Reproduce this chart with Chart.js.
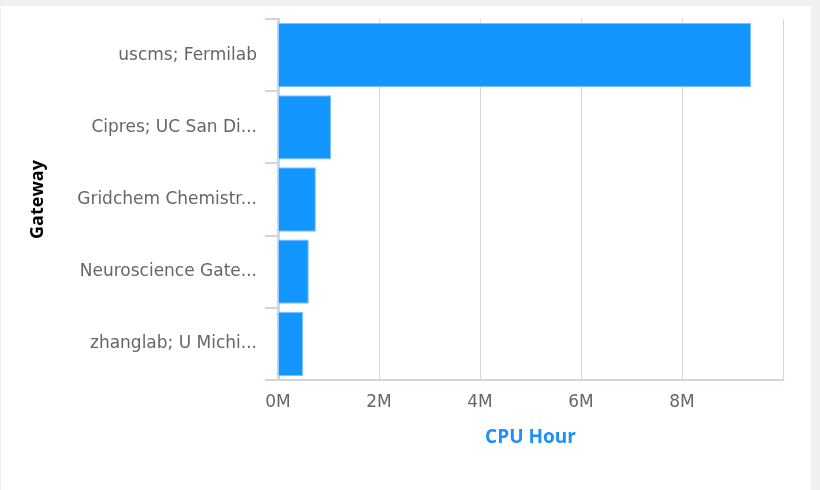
<!DOCTYPE html>
<html>
<head>
<meta charset="utf-8">
<script src="https://cdn.jsdelivr.net/npm/chart.js@4"></script>
<style>
  body { margin: 0; background: #f0f0f0; width: 820px; height: 490px; overflow: hidden; }
  .card { position: absolute; left: 1px; top: 6px; width: 810px; height: 484px; background: #fff; }
</style>
</head>
<body>
<div class="card"><canvas id="myChart" width="810" height="484"></canvas></div>
<script>
const gateways = ["uscms; Fermilab", "Cipres; UC San Di...", "Gridchem Chemistr...", "Neuroscience Gate...", "zhanglab; U Michi..."];
const cpuHours = [9370000, 1050000, 750000, 610000, 500000];
const xTicks = [0, 2000000, 4000000, 6000000, 8000000, 10000000];

const labelFont = { family: "'DejaVu Sans', sans-serif", size: 17 };

const data = {
  labels: gateways,
  datasets: [
    {
      label: "CPU Hour",
      backgroundColor: "#1396ff",
      borderColor: "#7cc2ff",
      borderWidth: 1,
      categoryPercentage: 0.89,
      barPercentage: 1.0,
      data: cpuHours,
    },
  ],
};

const config = {
  type: "bar",
  data: data,
  options: {
    indexAxis: "y",
    responsive: false,
    animation: false,
    layout: { padding: { top: 13, right: 28, bottom: 20, left: 0 } },
    plugins: { legend: { display: false }, tooltip: { enabled: false } },
    scales: {
      x: {
        min: 0,
        max: 10000000,
        afterBuildTicks: (scale) => { scale.ticks = xTicks.map((v) => ({ value: v })); },
        afterFit: (scale) => { scale.height = 90; },
        grid: { color: "#d8d8d8", lineWidth: 1, drawTicks: false },
        border: { color: "#ccd6eb", width: 2 },
        ticks: {
          padding: 12,
          color: "#666",
          font: labelFont,
          maxRotation: 0,
          callback: (v) => (v >= 10000000 ? "" : v / 1000000 + "M"),
        },
        title: {
          display: true,
          text: "CPU Hour",
          color: "#1f8fff",
          font: { family: "'Open Sans', sans-serif", size: 19, weight: "bold" },
          padding: { top: 0, bottom: 21 },
        },
      },
      y: {
        offset: true,
        afterFit: (scale) => {
          scale.width = 277;
          scale.paddingTop = 0;
          scale.paddingBottom = 0;
        },
        grid: { offset: true, drawOnChartArea: false, drawTicks: true, tickLength: 13, color: "#ccd6eb", lineWidth: 2 },
        border: { color: "#ccd6eb", width: 3 },
        ticks: { padding: 8, color: "#666", font: labelFont },
        title: {
          display: true,
          text: "Gateway",
          color: "#000",
          font: { family: "'Open Sans', sans-serif", size: 18, weight: "bold" },
          padding: { top: 26, bottom: 0 },
        },
      },
    },
  },
};
const myChart = new Chart(document.getElementById("myChart"), config);
</script>
</body>
</html>
